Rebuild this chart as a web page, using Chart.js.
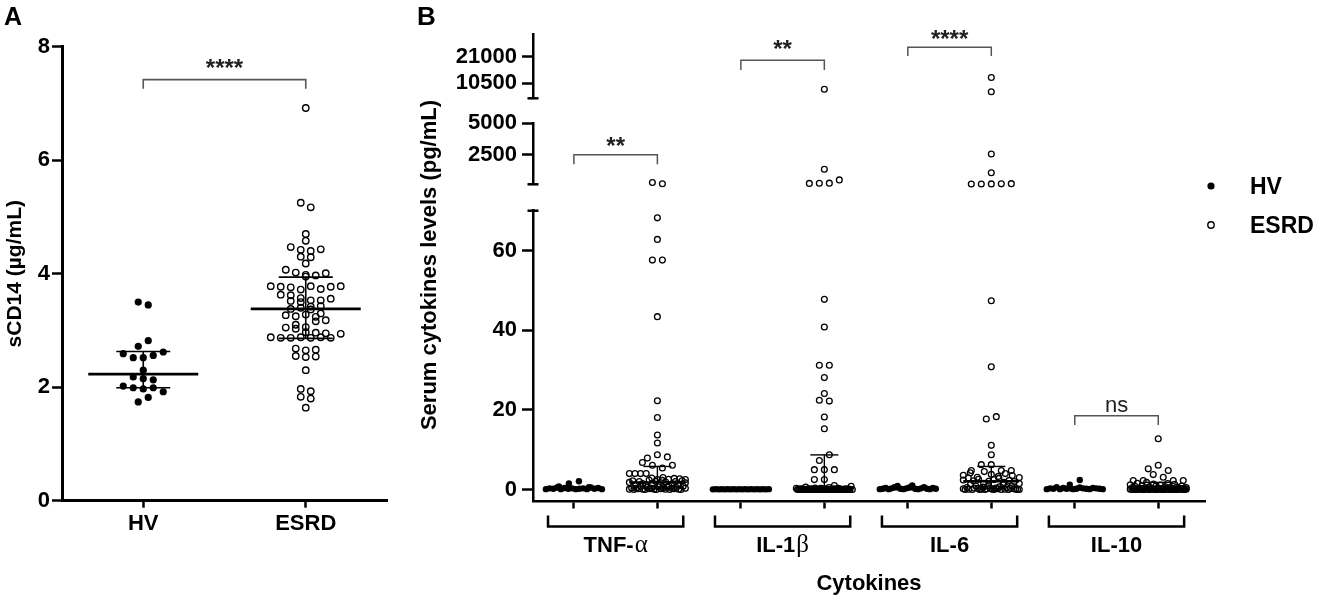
<!DOCTYPE html>
<html><head><meta charset="utf-8">
<script src="https://cdn.jsdelivr.net/npm/chart.js@4.4.1/dist/chart.umd.min.js"></script>
<style>
html,body{margin:0;padding:0;background:#fff;}
#wrap{position:relative;width:1325px;height:600px;overflow:hidden;background:#fff;}
canvas{position:absolute;top:0;}
#cA{left:0;}
.cb{left:400px;}
</style></head><body>
<div id="wrap">
<canvas id="cA" width="400" height="600"></canvas>
<canvas id="cBot" class="cb" width="925" height="600"></canvas>
<canvas id="cMid" class="cb" width="925" height="600"></canvas>
<canvas id="cTop" class="cb" width="925" height="600"></canvas>
</div>
<script>
// ---------------- DATA: panel A ----------------
const groupsA = ['HV', 'ESRD'];
const hvA = [3.50, 3.45, 2.72, 2.82, 2.59, 2.52, 2.52, 2.56, 2.62, 2.30, 2.18, 2.15, 2.13, 2.02, 1.99, 1.97, 1.99, 1.92, 1.74, 1.82];
const esrdA = [6.92, 5.25, 5.17, 4.70, 4.58, 4.47, 4.42, 4.40, 4.43, 4.30, 4.29, 4.18,
  4.07, 4.02, 3.98, 3.95, 3.97, 4.01,
  3.78, 3.77, 3.76, 3.72, 3.78, 3.73, 3.77, 3.78, 3.63, 3.62,
  3.57, 3.53, 3.52, 3.50, 3.53, 3.56, 3.42, 3.38, 3.40, 3.37, 3.43,
  3.30, 3.27, 3.25, 3.28, 3.24, 3.18, 3.10, 3.05, 3.03, 3.06, 3.16,
  2.97, 2.96, 2.88, 2.87, 2.87, 2.88, 2.87, 2.88, 2.87, 2.95, 2.94,
  2.68, 2.65, 2.66, 2.55, 2.53, 2.54, 2.30, 1.97, 1.93, 1.83, 1.80, 1.64];
const medianA = [2.23, 3.38];
const q1A = [1.99, 2.86];
const q3A = [2.63, 3.94];
const yTicksA = [0, 2, 4, 6, 8];
const sigLoA = 7.26, sigHiA = 7.42, sigLabA = '****';

// ---------------- DATA: panel B ----------------
const cytokines = ['TNF-α', 'IL-1β', 'IL-6', 'IL-10'];
const seriesNames = ['HV', 'ESRD'];
const tnfHV  = [0.1,0.3,0.2,0.5,0.1,0.4,0.2,0.8,0.3,0.1,1.5,2.1,0.6,0.2,0.3,0.1,0.5,0.2,0.4,0.1];
const il1bHV = [0.05,0.1,0.05,0.1,0.05,0.1,0.05,0.1,0.05,0.1,0.05,0.1,0.05,0.1,0.05,0.1,0.05,0.1,0.05,0.1];
const il6HV  = [0.1,0.2,0.4,0.1,0.3,0.6,0.9,0.2,0.1,0.3,0.5,1.0,0.2,0.1,0.3,0.6,0.2,0.1,0.4,0.2];
const il10HV = [0.1,0.3,0.2,0.6,0.1,0.4,0.2,1.2,0.3,0.1,0.2,0.5,0.3,2.4,0.2,0.1,0.4,0.3,0.2,0.1];
const tnfESRD = [290, 190, 68.2, 62.8, 57.6, 57.6, 43.4, 22.3, 18.1, 13.7, 11.7, 7.9, 8.75, 8.2, 6.8, 6.1, 5.4, 6.1, 4.0, 4.0, 4.0, 4.0,
  2.9,0.1,2.5,0.4,1.8,0,2.2,0.3,1.2,0.2, 3.0,0.8,2.0,0.1,1.5,0,2.6,0.5,1.0,0.2,
  2.4,0.3,1.6,0.1,2.1,0,0.7,0.2,2.8,0.4, 1.3,0.1,2.3,0.6,1.9,0,0.9,0.3,2.7,0.2,
  1.4,0.5,2.0,0.1,1.1,0,2.2,0.8,1.7,0.3,2.5];
const il1bESRD = [8077, 220, 230, 240, 500, 1350, 47.75, 40.8, 31.2, 31.2, 28.1, 24.1, 22.4, 22.2, 18.2, 15.25, 7.3, 8.75, 5, 5, 5, 2.5, 2.5,
  0.3,0,0.1,0,0.2,0,0.1,0,0.6,0, 0.1,0,0.2,0,0.1,0,0.4,0,0.1,0, 0,0.3,0.1,0,0.2,0,0.1,0,0.5,0,
  0.1,0,0.2,0,0.1,0,0.3,0,0.1,0, 1.0,0,0.1,0,0.2,0,0.1,0,0.8,0];
const il6ESRD = [12760, 7110, 170, 175, 180, 185, 200, 1070, 2560, 47.4, 30.8, 17.7, 18.3, 11.1, 8.75, 4.8, 6.25, 6.25, 4.8, 4.8,
  3.6,0.2,2.4,0,4.2,0.5,2.9,0.1,1.3,3.1, 0,2.2,0.4,4.5,0.9,2.6,0.3,0,3.8,1.6,
  0.1,2.1,0.6,3.3,0,2.5,0.2,1.0,4.0,0.3, 0.1,2.8,0,1.8,3.5,0.4,0.2,2.3,0.7,0,
  3.0,1.2,0.1,2.0,0.5,0,1.5,0.3,0.8,0.2, 0.1,0,0];
const il10ESRD = [12.75, 5.2, 6.1, 4.8, 2.25, 2.25, 3.75, 3.1, 2.25, 2.25,
  1.2,0.1,0.5,0,0.8,0.2,1.6,0,0.3,0.1, 1.0,0,0.4,0.2,1.8,0.1,0,0.6,0.3,0,
  1.4,0.1,0.2,0,0.9,0.4,0,0.1,1.1,0.2, 0,0.3,0.7,0.1,0,1.5,0.2,0,0.5,0.1,
  0,0.3,1.3,0,0.2,0.1,0.6,0,0.4,0.1, 0,0.2,0.9,0,0.1,0.3,0,0.2,0.1,0, 0.5,0,0.1];
// median / interquartile range per group (HV, ESRD for each cytokine)
const medB = [0.1, 1.8, 0.05, 0.2, 0.1, 2.1, 0.1, 0.2];
const q1B  = [0,   0.2, 0,    0,   0,   0.2, 0,   0];
const q3B  = [0.3, 5.8, 0.1,  8.7, 0.3, 5.8, 0.4, 1.8];
// broken y-axis segments and their ticks
const segBot = [-3, 70],    tickBot = [0, 20, 40, 60];
const segMid = [150, 5000], tickMid = [2500, 5000];
const segTop = [4500, 30000], tickTop = [10500, 21000];
// significance brackets
const sigLoB  = [1740, 15775, 21350, 16.2];
const sigHiB  = [2500, 19640, 24820, 18.5];
const sigLabB = ['**', '**', '****', 'ns'];

const hvB = [tnfHV, il1bHV, il6HV, il10HV];
const esrdB = [tnfESRD, il1bESRD, il6ESRD, il10ESRD];

// ---------------- helpers ----------------
const F = "'Liberation Sans', Arial, Helvetica, sans-serif";
const FS = "'Liberation Serif', 'Times New Roman', serif";

function drawLine(ctx, p) {
  ctx.beginPath(); ctx.moveTo(p[0], p[1]);
  for (let i = 2; i < p.length; i += 2) ctx.lineTo(p[i], p[i + 1]);
  ctx.stroke();
}
function drawSig(ctx, text, cx, by, lift) {
  lift = lift || 0;
  ctx.textAlign = 'center'; ctx.textBaseline = 'alphabetic'; ctx.fillStyle = '#222';
  if (text === 'ns') { ctx.font = '22px ' + F; ctx.fillText(text, cx, by - 3.5 - lift); }
  else { ctx.font = 'bold 24px ' + F; ctx.fillText(text, cx, by - 0.5 - lift); }
}
function drawName(ctx, name, cx, by) {
  const last = name.slice(-1);
  const greek = /[α-ω]/.test(last);
  const main = greek ? name.slice(0, -1) : name;
  const fMain = 'bold 22px ' + F, fG = '25px ' + FS;
  ctx.font = fMain; const w1 = ctx.measureText(main).width;
  let w2 = 0;
  if (greek) { ctx.font = fG; w2 = ctx.measureText(last).width + 1; }
  const sx = cx - (w1 + w2) / 2;
  ctx.textAlign = 'left'; ctx.textBaseline = 'alphabetic'; ctx.fillStyle = '#000';
  ctx.font = fMain; ctx.fillText(main, sx, by);
  if (greek) { ctx.font = fG; ctx.fillText(last, sx + w1 + 1, by); }
}

// beeswarm-style row layout of points around their category centre
const swarmPlugin = {
  id: 'swarm',
  afterDatasetsUpdate(chart, args, opts) {
    const xs = chart.scales.x;
    chart.data.datasets.forEach((ds, di) => {
      const meta = chart.getDatasetMeta(di);
      const groups = {};
      meta.data.forEach((el, i) => {
        const gx = ds.data[i].x;
        (groups[gx] = groups[gx] || []).push({ el, i });
      });
      for (const gx in groups) {
        const cx = xs.getPixelForValue(+gx);
        const items = groups[gx].slice().sort((a, b) => (a.el.y - b.el.y) || (a.i - b.i));
        const rows = []; let cur = null;
        for (const it of items) {
          if (cur && it.el.y - cur.y0 <= opts.tol) cur.items.push(it);
          else { cur = { y0: it.el.y, items: [it] }; rows.push(cur); }
        }
        rows.forEach(r => {
          r.items.sort((a, b) => a.i - b.i);
          const n = r.items.length;
          const sp = n > 1 ? Math.min(opts.spacing, 2 * opts.maxHalf / (n - 1)) : 0;
          r.items.forEach((it, k) => { it.el.x = cx + (k - (n - 1) / 2) * sp; });
        });
      }
    });
  }
};

// ---------------- Panel A ----------------
const decoAPlugin = {
  id: 'decoA',
  afterDatasetsDraw(chart) {
    const { ctx } = chart; const x = chart.scales.x, y = chart.scales.y;
    ctx.save(); ctx.strokeStyle = '#000';
    groupsA.forEach((g, i) => {
      const cx = x.getPixelForValue(i);
      const ym = y.getPixelForValue(medianA[i]), y1 = y.getPixelForValue(q1A[i]), y3 = y.getPixelForValue(q3A[i]);
      ctx.lineWidth = 2.6; drawLine(ctx, [cx - 55, ym, cx + 55, ym]);
      ctx.lineWidth = 1.6;
      drawLine(ctx, [cx, y1, cx, y3]);
      drawLine(ctx, [cx - 27, y1, cx + 27, y1]);
      drawLine(ctx, [cx - 27, y3, cx + 27, y3]);
    });
    ctx.restore();
  },
  afterDraw(chart) {
    const { ctx } = chart; const x = chart.scales.x, y = chart.scales.y;
    ctx.save();
    const x0 = x.getPixelForValue(0), x1 = x.getPixelForValue(1);
    const yh = y.getPixelForValue(sigHiA), yl = y.getPixelForValue(sigLoA);
    ctx.strokeStyle = '#555'; ctx.lineWidth = 1.6;
    drawLine(ctx, [x0, yl, x0, yh, x1, yh, x1, yl]);
    drawSig(ctx, sigLabA, (x0 + x1) / 2, yh, 3);
    ctx.fillStyle = '#000'; ctx.font = 'bold 25px ' + F; ctx.textAlign = 'left'; ctx.textBaseline = 'alphabetic';
    ctx.fillText('A', 4, 25);
    ctx.restore();
  }
};

const tickFont = { family: F, size: 22, weight: 'bold' };

new Chart(document.getElementById('cA'), {
  type: 'scatter',
  data: {
    datasets: [
      { label: seriesNames[0], data: hvA.map(v => ({ x: 0, y: v })), pointRadius: 3.6, backgroundColor: '#000', borderColor: '#000', borderWidth: 0, clip: false },
      { label: seriesNames[1], data: esrdA.map(v => ({ x: 1, y: v })), pointRadius: 3.2, backgroundColor: 'rgba(0,0,0,0)', borderColor: '#000', borderWidth: 1.4, clip: false }
    ]
  },
  options: {
    responsive: false, animation: false, events: [],
    layout: { padding: { top: 46.7, right: 13, left: 0, bottom: 0 } },
    plugins: { legend: { display: false }, tooltip: { enabled: false }, swarm: { spacing: 10, maxHalf: 55, tol: 6 } },
    scales: {
      x: {
        type: 'linear', min: -0.5, max: 1.5,
        afterBuildTicks: s => { s.ticks = groupsA.map((_, i) => ({ value: i })); },
        afterFit: s => { s.height = 99.3; },
        grid: { display: true, drawOnChartArea: false, drawTicks: true, tickLength: 7, tickWidth: 2.5, tickColor: '#000', color: '#000' },
        border: { display: true, color: '#000', width: 3 },
        ticks: { callback: v => groupsA[v], font: tickFont, color: '#000', padding: 3, maxRotation: 0, autoSkip: false }
      },
      y: {
        min: 0, max: 8,
        afterBuildTicks: s => { s.ticks = yTicksA.map(v => ({ value: v })); },
        afterFit: s => { s.width = 62; },
        grid: { display: true, drawOnChartArea: false, drawTicks: true, tickLength: 10, tickWidth: 2.5, tickColor: '#000', color: '#000' },
        border: { display: true, color: '#000', width: 3 },
        ticks: { font: tickFont, color: '#000', padding: 2 },
        title: { display: true, text: 'sCD14 (µg/mL)', font: { family: F, size: 21, weight: 'bold' }, color: '#000', padding: { top: 3, bottom: 0 } }
      }
    }
  },
  plugins: [swarmPlugin, decoAPlugin]
});

// ---------------- Panel B ----------------
function segOf(v) { return v > segMid[1] ? 'top' : (v > segBot[1] ? 'mid' : 'bot'); }
function pointsFor(arrs, offset, seg) {
  const pts = [];
  arrs.forEach((arr, g) => arr.forEach(v => { if (segOf(v) === seg) pts.push({ x: 2 * g + offset, y: v }); }));
  return pts;
}

const decoBPlugin = {
  id: 'decoB',
  afterDatasetsDraw(chart, args, opts) {
    if (!opts.full) return;
    const { ctx } = chart; const x = chart.scales.x, y = chart.scales.y;
    ctx.save(); ctx.strokeStyle = '#000';
    medB.forEach((m, k) => {
      const cx = x.getPixelForValue(k);
      const ym = y.getPixelForValue(m), y1 = y.getPixelForValue(q1B[k]), y3 = y.getPixelForValue(q3B[k]);
      ctx.lineWidth = 2.4; drawLine(ctx, [cx - 28, ym, cx + 28, ym]);
      ctx.lineWidth = 1.4;
      drawLine(ctx, [cx, y1, cx, y3]);
      drawLine(ctx, [cx - 14, y3, cx + 14, y3]);
      drawLine(ctx, [cx - 14, y1, cx + 14, y1]);
    });
    ctx.restore();
  },
  afterDraw(chart, args, opts) {
    const { ctx, chartArea } = chart; const x = chart.scales.x, y = chart.scales.y;
    ctx.save();
    // break caps of the axis segment
    ctx.strokeStyle = '#000'; ctx.lineWidth = 2.5;
    const capY = opts.cap === 'top' ? chartArea.top : chartArea.bottom;
    drawLine(ctx, [chartArea.left - 5.5, capY, chartArea.left + 5.5, capY]);
    // significance brackets that fall in this segment
    sigHiB.forEach((hi, k) => {
      if (hi < y.min || hi > y.max) return;
      const x0 = x.getPixelForValue(2 * k), x1 = x.getPixelForValue(2 * k + 1);
      const yh = y.getPixelForValue(hi), yl = y.getPixelForValue(sigLoB[k]);
      ctx.strokeStyle = '#555'; ctx.lineWidth = 1.5;
      drawLine(ctx, [x0, yl, x0, yh, x1, yh, x1, yl]);
      drawSig(ctx, sigLabB[k], (x0 + x1) / 2, yh, k === 1 ? 3 : 0);
    });
    if (opts.full) {
      const yb = chartArea.bottom;
      ctx.strokeStyle = '#000'; ctx.lineWidth = 2.5;
      cytokines.forEach((name, g) => {
        const xa = x.getPixelForValue(2 * g - 0.31), xb = x.getPixelForValue(2 * g + 1 + 0.31);
        drawLine(ctx, [xa, yb + 14, xa, yb + 25, xb, yb + 25, xb, yb + 14]);
        drawName(ctx, name, (xa + xb) / 2, yb + 50);
      });
      ctx.fillStyle = '#000'; ctx.textAlign = 'center'; ctx.textBaseline = 'alphabetic';
      ctx.font = 'bold 22px ' + F;
      ctx.fillText('Cytokines', (chartArea.left + chartArea.right) / 2, yb + 88);
      // legend
      ctx.beginPath(); ctx.arc(811, 186, 3.6, 0, Math.PI * 2); ctx.fill();
      ctx.lineWidth = 1.4; ctx.beginPath(); ctx.arc(811, 225, 3.2, 0, Math.PI * 2); ctx.stroke();
      ctx.font = 'bold 23px ' + F; ctx.textAlign = 'left';
      ctx.fillText(seriesNames[0], 850, 194);
      ctx.fillText(seriesNames[1], 850, 233);
      // y title spanning all segments
      ctx.save();
      ctx.translate(30, 265); ctx.rotate(-Math.PI / 2);
      ctx.textAlign = 'center'; ctx.textBaseline = 'middle'; ctx.font = 'bold 22px ' + F;
      ctx.fillText('Serum cytokines levels (pg/mL)', 0, 0);
      ctx.restore();
      ctx.font = 'bold 26px ' + F; ctx.textAlign = 'left';
      ctx.fillText('B', 17, 25);
    }
    ctx.restore();
  }
};

function makeB(canvasId, seg, range, ticks, padding, isBottom) {
  const xOpts = {
    type: 'linear', min: -0.49, max: 7.56, display: isBottom,
    afterBuildTicks: s => { s.ticks = [0, 1, 2, 3, 4, 5, 6, 7].map(v => ({ value: v })); },
    grid: { display: true, drawOnChartArea: false, drawTicks: true, tickLength: 7, tickWidth: 2.5, tickColor: '#000', color: '#000' },
    border: { display: true, color: '#000', width: 2.5 },
    ticks: { display: false }
  };
  if (isBottom) xOpts.afterFit = s => { s.height = 98.5; };
  return new Chart(document.getElementById(canvasId), {
    type: 'scatter',
    data: {
      datasets: [
        { label: seriesNames[0], data: pointsFor(hvB, 0, seg), pointRadius: 3.2, backgroundColor: '#000', borderColor: '#000', borderWidth: 0, clip: false },
        { label: seriesNames[1], data: pointsFor(esrdB, 1, seg), pointRadius: 2.9, backgroundColor: 'rgba(0,0,0,0)', borderColor: '#000', borderWidth: 1.3, clip: false }
      ]
    },
    options: {
      responsive: false, animation: false, events: [],
      layout: { padding: padding },
      plugins: {
        legend: { display: false }, tooltip: { enabled: false },
        swarm: { spacing: 10, maxHalf: 28, tol: 6 },
        decoB: { full: isBottom, cap: isBottom ? 'top' : 'bottom' }
      },
      scales: {
        x: xOpts,
        y: {
          min: range[0], max: range[1],
          afterBuildTicks: s => { s.ticks = ticks.map(v => ({ value: v })); },
          afterFit: s => { s.width = 133; },
          grid: { display: true, drawOnChartArea: false, drawTicks: true, tickLength: 11, tickWidth: 2.5, tickColor: '#000', color: '#000' },
          border: { display: true, color: '#000', width: 2.5 },
          ticks: { font: tickFont, color: '#000', padding: 5, callback: v => String(v) }
        }
      }
    },
    plugins: [swarmPlugin, decoBPlugin]
  });
}

makeB('cBot', 'bot', segBot, tickBot, { top: 210.7, right: 120, left: 0, bottom: 0 }, true);
makeB('cMid', 'mid', segMid, tickMid, { top: 123.3, right: 120, left: 0, bottom: 415.7 }, false);
makeB('cTop', 'top', segTop, tickTop, { top: 34.3, right: 120, left: 0, bottom: 501.7 }, false);
</script>
</body></html>
